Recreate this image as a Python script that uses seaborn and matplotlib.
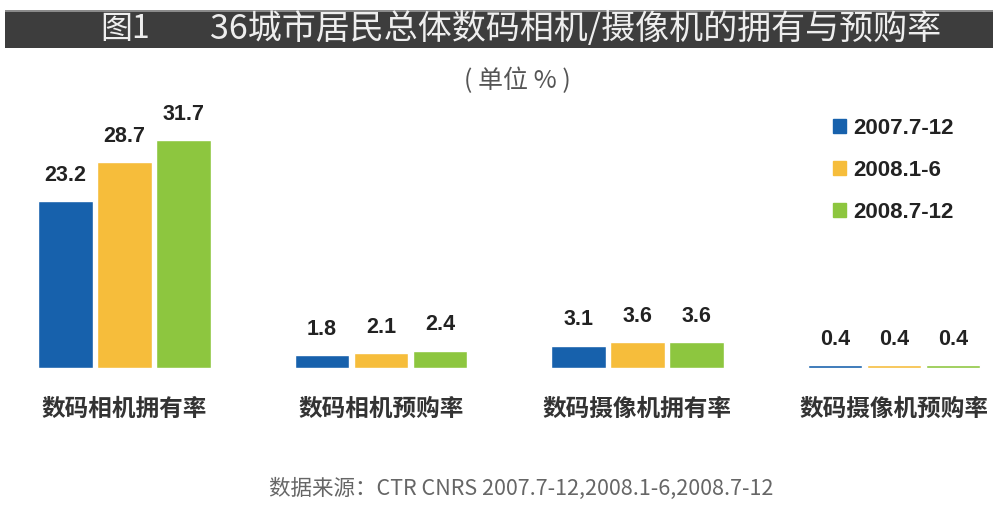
import pandas as pd
import seaborn as sns
import matplotlib.pyplot as plt
from matplotlib.patches import Rectangle

# data
categories = ['数码相机拥有率', '数码相机预购率', '数码摄像机拥有率', '数码摄像机预购率']
periods = ['2007.7-12', '2008.1-6', '2008.7-12']
v_2007h2 = [23.2, 1.8, 3.1, 0.4]
v_2008h1 = [28.7, 2.1, 3.6, 0.4]
v_2008h2 = [31.7, 2.4, 3.6, 0.4]
colors = ['#1761ac', '#f6bd3b', '#8dc63f']

df = pd.DataFrame({
    'category': categories * 3,
    'period': [p for p in periods for _ in categories],
    'value': v_2007h2 + v_2008h1 + v_2008h2,
})

sns.set_theme(style='white')
plt.rcParams['font.family'] = ['Noto Sans CJK SC', 'DejaVu Sans']

fig = plt.figure(figsize=(9.93, 5.05), dpi=100)
ax = fig.add_axes([0.0, 137 / 505, 1.0, 268 / 505])

sns.barplot(data=df, x='category', y='value', hue='period', hue_order=periods,
            palette=colors, width=0.69, gap=0.07, saturation=1, ax=ax, legend=False)

ax.set_xlim(-0.485, 3.386)
ax.set_ylim(0, 37.3)

for cont in ax.containers:
    ax.bar_label(cont, fmt='%.1f', padding=11, fontsize=15.5, fontweight='bold',
                 color='#222222', family=['Liberation Sans', 'DejaVu Sans'])

ax.set_xlabel('')
ax.set_ylabel('')
ax.set_yticks([])
ax.tick_params(axis='x', length=0, pad=21, labelsize=17, labelcolor='#333333')
for lab in ax.get_xticklabels():
    lab.set_fontweight('bold')
sns.despine(ax=ax, left=True, bottom=True)

# legend with square markers
handles = [Rectangle((0, 0), 1, 1, color=c) for c in colors]
leg = fig.legend(handles, periods, loc='upper left', bbox_to_anchor=(833 / 993, 1 - 118 / 505),
                 frameon=False, handlelength=0.6, handleheight=0.6, handletextpad=0.3,
                 labelspacing=0.95, borderpad=0, borderaxespad=0,
                 prop={'family': ['Liberation Sans', 'DejaVu Sans'], 'size': 16, 'weight': 'bold'})
for t in leg.get_texts():
    t.set_color('#222222')

# dark title bar with a faint light edge on top
fig.patches.append(Rectangle((5 / 993, 1 - 48 / 505), 1, 38 / 505, transform=fig.transFigure,
                             facecolor='#3d3d3d', edgecolor='none', zorder=0))
fig.patches.append(Rectangle((5 / 993, 1 - 12 / 505), 1, 2 / 505, transform=fig.transFigure,
                             facecolor='#8a8a8a', edgecolor='none', zorder=0))
fig.text(125 / 993, 1 - 29 / 505, '图1', ha='center', va='center', fontsize=23, color='#eeeeee')
fig.text(210 / 993, 1 - 29 / 505, '36城市居民总体数码相机/摄像机的拥有与预购率',
         ha='left', va='center', fontsize=24.5, color='#eeeeee')
fig.text(517 / 993, 1 - 81 / 505, '( 单位 % )', ha='center', va='center', fontsize=18, color='#555555')

fig.text(521 / 993, 1 - 489 / 505, '数据来源：CTR CNRS 2007.7-12,2008.1-6,2008.7-12',
         ha='center', va='center', fontsize=15.5, color='#666666')

fig.savefig('out.png', dpi=100, facecolor='white')
